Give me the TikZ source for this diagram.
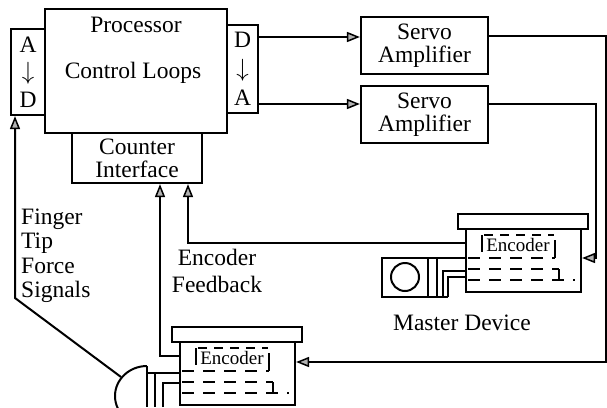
\documentclass[tikz,border=0pt]{standalone}
\usepackage{fontspec}
\setmainfont{Liberation Serif}
\usetikzlibrary{arrows.meta}

\begin{document}
\begin{tikzpicture}[
        x=1pt, y=-1pt,
        box/.style={draw, line width=2.2pt, inner sep=0pt},
        lbl/.style={font=\fontsize{23.5}{23}\selectfont, inner sep=0pt, align=center},
        wire/.style={line width=2pt},
        sig/.style={wire, -{Triangle[length=13pt, width=10pt, fill=gray!60, line width=1.5pt]}},
        dashrow/.style={line width=2pt, dash pattern=on 12pt off 9pt}
    ]
        \clip (0,0) rectangle (607,407);

        % processor and its converters
        \node[box, minimum width=182pt, minimum height=124pt] (proc) at (136,71) {};
        \node[lbl] (ptitle) at (136,25) {Processor};
        \node[lbl] (ploops) at (133,73) {Control Loops};
        \node[box, lbl, minimum width=34pt, minimum height=86pt,
            font=\fontsize{23.5}{27.5}\selectfont] (ad) at (28,72) {A\\$\downarrow$\\D};
        \node[box, lbl, minimum width=31pt, minimum height=88pt,
            font=\fontsize{23.5}{29}\selectfont] (da) at (242.5,69) {D\\$\downarrow$\\A};
        \node[box, lbl, minimum width=130pt, minimum height=50pt] (counter) at (137,158) {Counter\\Interface};

        \node[box, lbl, minimum width=127pt, minimum height=57pt] (servo1) at (424.5,45.5) {Servo\\Amplifier};
        \node[box, lbl, minimum width=127pt, minimum height=57pt] (servo2) at (424.5,114.5) {Servo\\Amplifier};

        % encoder units: m = master, s = slave
        \foreach \p/\ex/\ey in {m/466/229, s/180/342} {
            \begin{scope}[shift={(\ex,\ey)}, name prefix=\p-]
                \node[box, minimum width=130pt, minimum height=15pt] (plate) at (57,-7.5) {};
                \node[box, minimum width=115pt, minimum height=63pt] (enc) at (57.5,31.5) {};
                \node[font=\fontsize{19}{19}\selectfont, inner sep=0pt] (name) at (52,16) {Encoder};
                \draw[line width=1.4pt, dash pattern=on 9pt off 7pt] (18,6) -- (88,6);
                \draw[wire] (16,6) -- (16,23);
                \draw[wire] (89,11) -- (89,29);
                \draw[dashrow] (2,29) -- (89,29);
                \draw[dashrow] (2,40) -- (93,40);
                \draw[wire] (93,40) -- (93,51);
                \draw[dashrow] (2,51) -- (109,51);
                \coordinate (fb) at (0,14);
            \end{scope}
        }

        % master motor
        \draw[wire] (382,258) rectangle (428,297);
        \draw[wire] (405,277) circle[radius=14];
        \draw[wire] (428,258) rectangle (437,297);
        \draw[wire] (437,258) -- (466,258);
        \draw[wire] (437,297) -- (448,297);
        \draw[wire] (443,297) |- (466,271);
        \draw[wire] (448,297) |- (466,277);
        \node[lbl] (mlbl) at (462,323) {Master Device};

        % slave gripper
        \draw[wire] (147,366) arc[start angle=270, end angle=90, x radius=32, y radius=30];
        \draw[wire] (147,366) -- (147,407);
        \draw[wire] (147,373) -- (180,373);
        \draw[wire] (155,373) -- (155,407);
        \draw[wire] (163,407) |- (180,383);
        \coordinate (tip) at (121,377);
        \coordinate (bend) at (15,298);

        % signal paths
        \coordinate (s1in) at ([yshift=8.5pt]servo1.west);
        \coordinate (s2in) at ([yshift=10.5pt]servo2.west);
        \draw[sig] (da.east |- s1in) -- (s1in);
        \draw[sig] (da.east |- s2in) -- (s2in);

        \coordinate (rcorner) at (606,362);
        \coordinate (mcorner) at (596,258);
        \draw[sig] ([yshift=9.5pt]servo1.east) -| (rcorner) -- (s-enc.east |- rcorner);
        \draw[sig] ([yshift=10.5pt]servo2.east) -| (mcorner) -- (m-enc.east |- mcorner);

        \draw[sig] (s-fb) -| ([xshift=23pt]counter.south);
        \draw[sig] (m-fb) -| ([xshift=51pt]counter.south);
        \draw[sig] (tip) -- (bend) -- (bend |- ad.south);

        \node[lbl, align=left, anchor=west, font=\fontsize{23.5}{24.5}\selectfont] (fingerlbl) at (21,256) {Finger\\Tip\\Force\\Signals};
        \node[lbl, font=\fontsize{23.5}{27}\selectfont] (fblbl) at (217,271) {Encoder\\Feedback};
    \end{tikzpicture}
\end{document}
